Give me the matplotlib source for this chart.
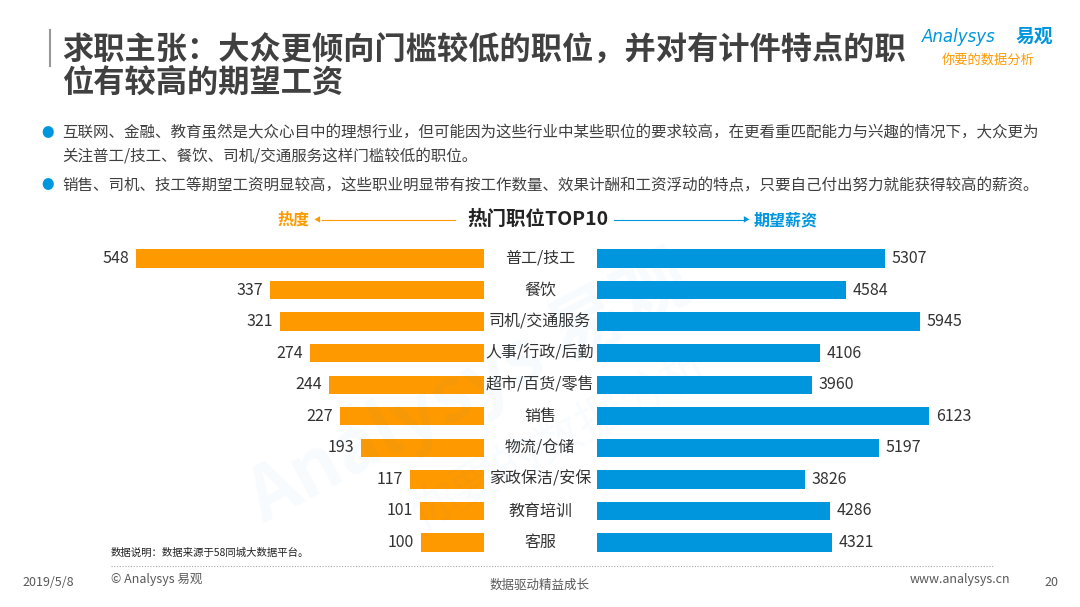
import matplotlib
matplotlib.use("Agg")
import matplotlib.pyplot as plt
from matplotlib.transforms import blended_transform_factory

plt.rcParams['font.family'] = ['Noto Sans CJK SC', 'DejaVu Sans']

jobs = ['普工/技工', '餐饮', '司机/交通服务', '人事/行政/后勤', '超市/百货/零售',
        '销售', '物流/仓储', '家政保洁/安保', '教育培训', '客服']
heat = [548, 337, 321, 274, 244, 227, 193, 117, 101, 100]
salary = [5307, 4584, 5945, 4106, 3960, 6123, 5197, 3826, 4286, 4321]

ORANGE = '#FF9900'
BLUE = '#0096DE'
DARK = '#404040'

W, H = 1080, 607
fig = plt.figure(figsize=(W / 100, H / 100), dpi=100)

def fx(x):
    return x / W

def fy(y):
    return 1 - y / H

# title
fig.add_artist(plt.Line2D([fx(50), fx(50)], [fy(30), fy(66)], color='#999999', lw=1.5))
fig.text(fx(62), fy(51), '求职主张：大众更倾向门槛较低的职位，并对有计件特点的职',
         fontsize=22.5, fontweight='bold', color=DARK, va='center')
fig.text(fx(62), fy(83), '位有较高的期望工资',
         fontsize=22.5, fontweight='bold', color=DARK, va='center')

# logo
fig.text(fx(922), fy(37), 'Analysys', fontsize=12, color=BLUE, family='DejaVu Sans',
         style='italic', va='center')
fig.text(fx(1016), fy(36), '易观', fontsize=13.5, color=BLUE, fontweight='bold', va='center')
fig.text(fx(942), fy(60), '你要的数据分析', fontsize=9.5, color=ORANGE, va='center')

# bullets
for y in (133, 186):
    fig.text(fx(48), fy(y), '●', fontsize=9, color=BLUE, va='center', ha='center')
fig.text(fx(62), fy(133), '互联网、金融、教育虽然是大众心目中的理想行业，但可能因为这些行业中某些职位的要求较高，在更看重匹配能力与兴趣的情况下，大众更为',
         fontsize=11.2, color=DARK, va='center')
fig.text(fx(62), fy(157), '关注普工/技工、餐饮、司机/交通服务这样门槛较低的职位。',
         fontsize=11.2, color=DARK, va='center')
fig.text(fx(62), fy(186), '销售、司机、技工等期望工资明显较高，这些职业明显带有按工作数量、效果计酬和工资浮动的特点，只要自己付出努力就能获得较高的薪资。',
         fontsize=11.2, color=DARK, va='center')

# chart header
fig.text(fx(294), fy(220), '热度', fontsize=11.5, fontweight='bold', color=ORANGE, va='center', ha='center')
fig.text(fx(786), fy(220), '期望薪资', fontsize=11.5, fontweight='bold', color=BLUE, va='center', ha='center')
fig.text(fx(538), fy(219), '热门职位TOP10', fontsize=14, fontweight='bold', color='#222222', va='center', ha='center')
fig.add_artist(plt.Line2D([fx(322), fx(455)], [fy(220), fy(220)], color=ORANGE, lw=0.8))
fig.add_artist(plt.Line2D([fx(614), fx(744)], [fy(220), fy(220)], color=BLUE, lw=0.8))
fig.text(fx(317), fy(220), '◀', fontsize=5, color=ORANGE, va='center', ha='center')
fig.text(fx(746), fy(220), '▶', fontsize=5, color=BLUE, va='center', ha='center')

# watermark
fig.text(fx(470), fy(390), 'Analysys 易观', fontsize=54, color='#0096DE', alpha=0.035,
         rotation=28, ha='center', va='center', fontweight='bold')
fig.text(fx(560), fy(440), '你要的数据分析', fontsize=34, color='#0096DE', alpha=0.03,
         rotation=28, ha='center', va='center')

# bar axes
top_px, row_h = 242.7, 31.56
ax_h = row_h * len(jobs)
bottom = 1 - (top_px + ax_h) / H
ax_l = fig.add_axes([fx(90), bottom, fx(394), ax_h / H])
ax_r = fig.add_axes([fx(597), bottom, fx(473), ax_h / H])

pos = list(range(len(jobs)))
ax_l.barh(pos, heat, height=0.58, color=ORANGE)
ax_r.barh(pos, salary, height=0.58, color=BLUE)
ax_l.set_xlim(394 / 0.635, 0)
ax_r.set_xlim(0, 473 / 0.05427)
for ax in (ax_l, ax_r):
    ax.set_ylim(len(jobs) - 0.5, -0.5)
    ax.axis('off')

for i, v in enumerate(heat):
    ax_l.annotate(str(v), (v, i), xytext=(-5, 0), textcoords='offset points',
                  ha='right', va='center', fontsize=11.5, color='#333333')
for i, v in enumerate(salary):
    ax_r.annotate(str(v), (v, i), xytext=(5, 0), textcoords='offset points',
                  ha='left', va='center', fontsize=11.5, color='#333333')

tr = blended_transform_factory(fig.transFigure, ax_r.transData)
for i, j in enumerate(jobs):
    ax_r.text(fx(540), i, j, transform=tr, ha='center', va='center',
              fontsize=11.5, color='#333333', clip_on=False)

# footer
fig.text(fx(111), fy(553), '数据说明：数据来源于58同城大数据平台。', fontsize=7.5, color='#222222', va='center')
fig.add_artist(plt.Line2D([fx(111), fx(994)], [fy(566), fy(566)], color='#AAAAAA', lw=0.8, ls=(0, (1, 1.5))))
fig.text(fx(22), fy(582), '2019/5/8', fontsize=9, color='#595959', va='center')
fig.text(fx(111), fy(579), '© Analysys 易观', fontsize=9, color='#595959', va='center')
fig.text(fx(540), fy(585), '数据驱动精益成长', fontsize=9, color='#595959', va='center', ha='center')
fig.text(fx(1010), fy(579), 'www.analysys.cn', fontsize=9, color='#595959', va='center', ha='right')
fig.text(fx(1058), fy(582), '20', fontsize=9, color='#595959', va='center', ha='right')

fig.savefig('out.png', dpi=100)
